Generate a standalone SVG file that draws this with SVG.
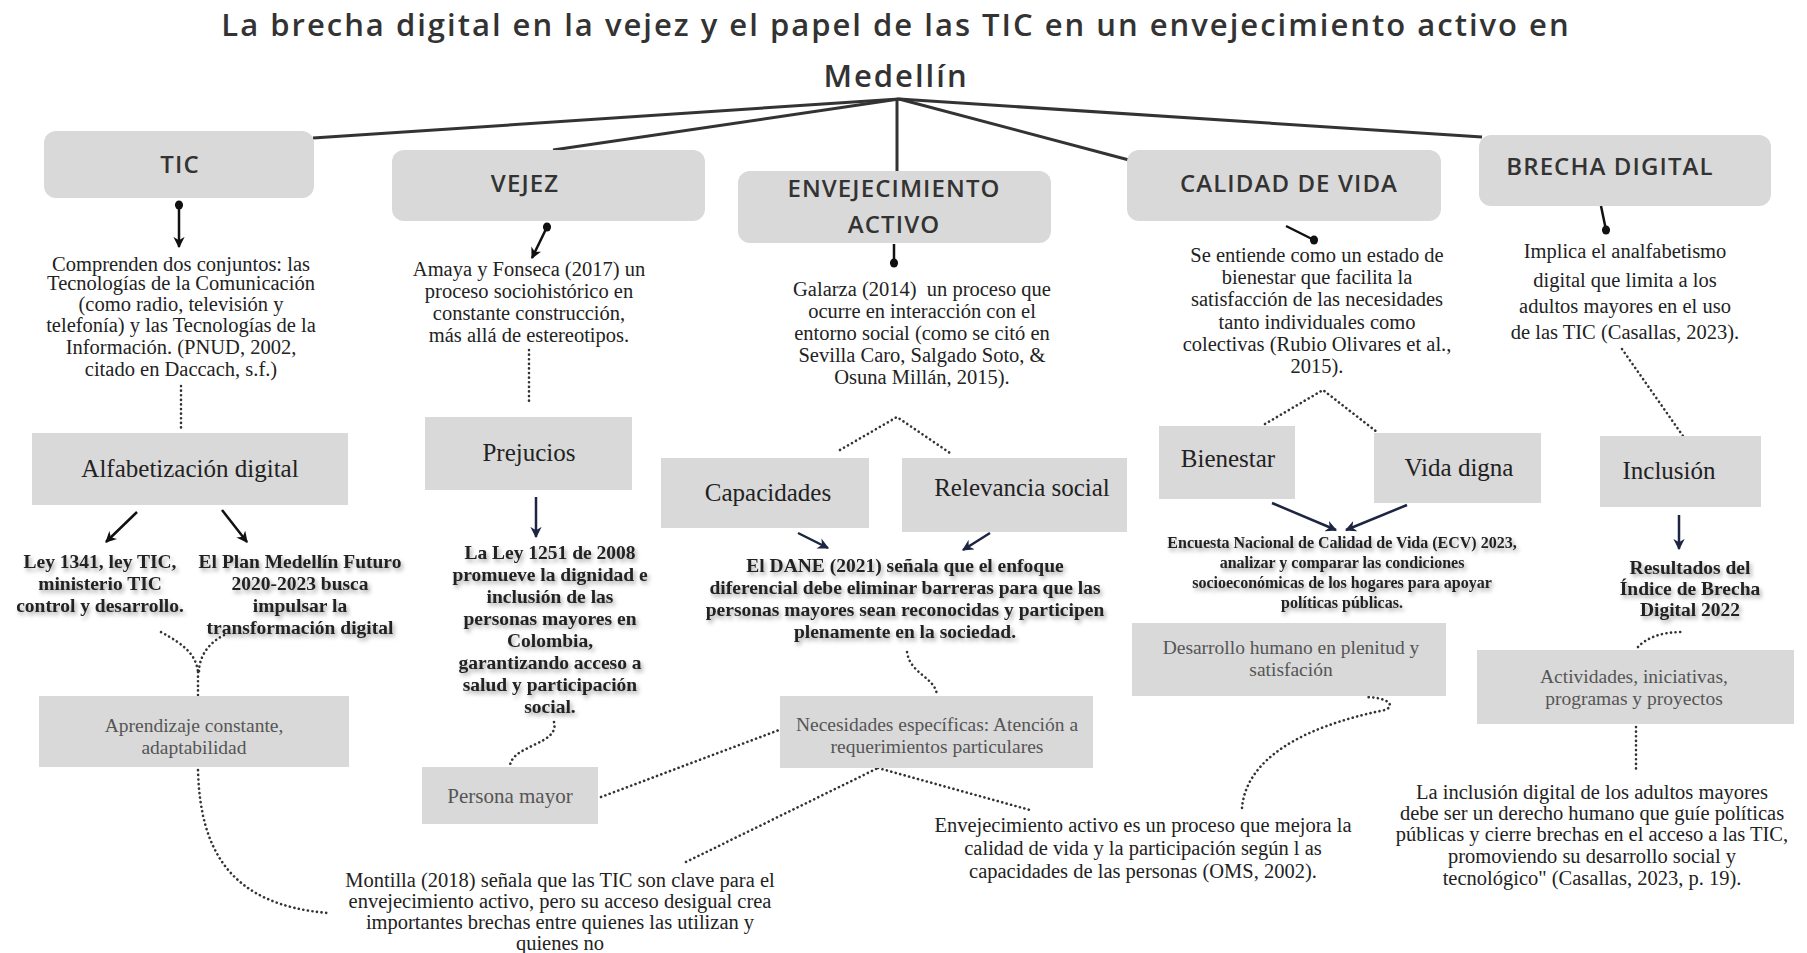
<svg xmlns="http://www.w3.org/2000/svg" width="1807" height="953" viewBox="0 0 1807 953">
<defs>
<style>
.hb{fill:#d9d9d9}
.bx{fill:#d9d9d9}
.title{font-family:"Open Sans","Liberation Sans",sans-serif;font-weight:600;font-size:31px;letter-spacing:2px;fill:#333;text-anchor:middle}
.ht{font-family:"Open Sans","Liberation Sans",sans-serif;font-weight:600;font-size:24px;letter-spacing:1.1px;fill:#333;text-anchor:middle}
.d{font-family:"Liberation Serif","Times New Roman",serif;font-size:20.5px;fill:#222;text-anchor:middle;white-space:pre}
.b{font-family:"Liberation Serif","Times New Roman",serif;font-size:19.5px;font-weight:bold;fill:#222;text-anchor:middle;filter:url(#sh)}
.g{font-family:"Liberation Serif","Times New Roman",serif;font-size:19.5px;fill:#555;text-anchor:middle}
.l{font-family:"Liberation Serif","Times New Roman",serif;font-size:25px;fill:#222;text-anchor:middle}
.hub{stroke:#333;stroke-width:3;fill:none}
.sl{stroke:#111;stroke-width:2.5;fill:none}
.nv{stroke:#1c2541;stroke-width:2.5;fill:none}
.dt{stroke:#333;stroke-width:2.6;fill:none;stroke-dasharray:0.1 4.5;stroke-linecap:round}
</style>
<filter id="sh" x="-10%" y="-30%" width="120%" height="180%">
<feDropShadow dx="2" dy="3" stdDeviation="2" flood-color="#000" flood-opacity="0.35"/>
</filter>
<marker id="arr" viewBox="0 0 10 10" refX="9" refY="5" markerWidth="4.5" markerHeight="4.5" orient="auto"><path d="M0,0 L10,5 L0,10 L3,5z" fill="#111"/></marker>
<marker id="arrn" viewBox="0 0 10 10" refX="9" refY="5" markerWidth="4.5" markerHeight="4.5" orient="auto"><path d="M0,0 L10,5 L0,10 L3,5z" fill="#1c2541"/></marker>
<marker id="dot" viewBox="0 0 10 10" refX="5" refY="5" markerWidth="9" markerHeight="10" markerUnits="userSpaceOnUse"><ellipse cx="5" cy="5" rx="4.5" ry="5" fill="#111"/></marker>
</defs>
<rect width="1807" height="953" fill="#fff"/>

<g id="title">
<text class="title" x="896" y="36">La brecha digital en la vejez y el papel de las TIC en un envejecimiento activo en</text>
<text class="title" x="896" y="87">Medellín</text>
</g>

<g id="connectors">
<path class="hub" d="M899 99 L313 138"/>
<path class="hub" d="M899 99 L553 150"/>
<path class="hub" d="M897 99 L897 171"/>
<path class="hub" d="M899 99 L1129 160"/>
<path class="hub" d="M899 99 L1482 137"/>
<path class="sl" d="M179 205 L179 247" marker-start="url(#dot)" marker-end="url(#arr)"/>
<path class="sl" d="M547 227 L532 258" marker-start="url(#dot)" marker-end="url(#arr)"/>
<path class="sl" d="M894 244 L894 263" marker-end="url(#dot)"/>
<path class="sl" d="M1286 226 L1314 240" marker-end="url(#dot)"/>
<path class="sl" d="M1601 206 L1606 230" marker-end="url(#dot)"/>
<path class="sl" d="M137 512 L106 542" marker-end="url(#arr)"/>
<path class="sl" d="M222 510 L247 542" marker-end="url(#arr)"/>
<path class="nv" d="M536 497 L536 537" marker-end="url(#arrn)"/>
<path class="nv" d="M798 533 L828 548" marker-end="url(#arrn)"/>
<path class="nv" d="M990 533 L963 550" marker-end="url(#arrn)"/>
<path class="nv" d="M1272 503 L1336 530" marker-end="url(#arrn)"/>
<path class="nv" d="M1407 505 L1346 530" marker-end="url(#arrn)"/>
<path class="nv" d="M1679 515 L1679 549" marker-end="url(#arrn)"/>
<path class="dt" d="M181 386 L181 430"/>
<path class="dt" d="M161 632 C185 645 196 655 198 672"/>
<path class="dt" d="M224 635 C205 645 199 660 199 672"/>
<path class="dt" d="M198 672 L198 696"/>
<path class="dt" d="M198 770 C200 850 230 905 328 913"/>
<path class="dt" d="M529 350 L529 404"/>
<path class="dt" d="M554 722 C560 745 510 745 510 767"/>
<path class="dt" d="M601 797 L779 730"/>
<path class="dt" d="M686 862 L878 768"/>
<path class="dt" d="M878 768 L1030 810"/>
<path class="dt" d="M907 652 C910 674 935 677 937 695"/>
<path class="dt" d="M840 450 L897 417 L950 453"/>
<path class="dt" d="M1242 808 C1246 760 1300 727 1385 710 C1395 706 1390 698 1367 697"/>
<path class="dt" d="M1265 424 L1323 390 L1377 432"/>
<path class="dt" d="M1622 349 L1683 436"/>
<path class="dt" d="M1638 647 Q1652 632 1683 632"/>
<path class="dt" d="M1636 727 L1636 770"/>
</g>

<g id="n-tic">
<rect class="hb" x="44" y="131" width="270" height="67" rx="12"/>
<text class="ht" x="180" y="173">TIC</text>
</g>
<g id="n-vejez">
<rect class="hb" x="392" y="150" width="313" height="71" rx="12"/>
<text class="ht" x="525" y="192">VEJEZ</text>
</g>
<g id="n-envejecimiento">
<rect class="hb" x="738" y="171" width="313" height="72" rx="12"/>
<text class="ht" x="894" y="197">ENVEJECIMIENTO</text>
<text class="ht" x="894" y="233">ACTIVO</text>
</g>
<g id="n-calidad">
<rect class="hb" x="1127" y="150" width="314" height="71" rx="12"/>
<text class="ht" x="1289" y="192">CALIDAD DE VIDA</text>
</g>
<g id="n-brecha">
<rect class="hb" x="1479" y="135" width="292" height="71" rx="12"/>
<text class="ht" x="1610" y="175">BRECHA DIGITAL</text>
</g>

<g id="t-tic-desc">
<text class="d" x="181" y="271">Comprenden dos conjuntos: las</text>
<text class="d" x="181" y="290">Tecnologías de la Comunicación</text>
<text class="d" x="181" y="311">(como radio, televisión y</text>
<text class="d" x="181" y="332">telefonía) y las Tecnologías de la</text>
<text class="d" x="181" y="354">Información. (PNUD, 2002,</text>
<text class="d" x="181" y="376">citado en Daccach, s.f.)</text>
</g>
<g id="n-alfabetizacion">
<rect class="bx" x="32" y="433" width="316" height="72"/>
<text class="l" x="190" y="477">Alfabetización digital</text>
</g>
<g id="t-ley1341">
<text class="b" x="100" y="568">Ley 1341, ley TIC,</text>
<text class="b" x="100" y="590">ministerio TIC</text>
<text class="b" x="100" y="612">control y desarrollo.</text>
</g>
<g id="t-plan">
<text class="b" x="300" y="568">El Plan Medellín Futuro</text>
<text class="b" x="300" y="590">2020-2023 busca</text>
<text class="b" x="300" y="612">impulsar la</text>
<text class="b" x="300" y="634">transformación digital</text>
</g>
<g id="n-aprendizaje">
<rect class="bx" x="39" y="696" width="310" height="71"/>
<text class="g" x="194" y="732">Aprendizaje constante,</text>
<text class="g" x="194" y="754">adaptabilidad</text>
</g>
<g id="t-montilla">
<text class="d" x="560" y="887">Montilla (2018) señala que las TIC son clave para el</text>
<text class="d" x="560" y="908">envejecimiento activo, pero su acceso desigual crea</text>
<text class="d" x="560" y="929">importantes brechas entre quienes las utilizan y</text>
<text class="d" x="560" y="950">quienes no</text>
</g>

<g id="t-vejez-desc">
<text class="d" x="529" y="276">Amaya y Fonseca (2017) un</text>
<text class="d" x="529" y="298">proceso sociohistórico en</text>
<text class="d" x="529" y="320">constante construcción,</text>
<text class="d" x="529" y="342">más allá de estereotipos.</text>
</g>
<g id="n-prejucios">
<rect class="bx" x="425" y="417" width="207" height="73"/>
<text class="l" x="529" y="461">Prejucios</text>
</g>
<g id="t-ley1251">
<text class="b" x="550" y="559">La Ley 1251 de 2008</text>
<text class="b" x="550" y="581">promueve la dignidad e</text>
<text class="b" x="550" y="603">inclusión de las</text>
<text class="b" x="550" y="625">personas mayores en</text>
<text class="b" x="550" y="647">Colombia,</text>
<text class="b" x="550" y="669">garantizando acceso a</text>
<text class="b" x="550" y="691">salud y participación</text>
<text class="b" x="550" y="713">social.</text>
</g>
<g id="n-persona">
<rect class="bx" x="422" y="767" width="176" height="57"/>
<text class="g" x="510" y="803" style="font-size:21px">Persona mayor</text>
</g>

<g id="t-env-desc">
<text class="d" x="922" y="296">Galarza (2014)  un proceso que</text>
<text class="d" x="922" y="318">ocurre en interacción con el</text>
<text class="d" x="922" y="340">entorno social (como se citó en</text>
<text class="d" x="922" y="362">Sevilla Caro, Salgado Soto, &amp;</text>
<text class="d" x="922" y="384">Osuna Millán, 2015).</text>
</g>
<g id="n-capacidades">
<rect class="bx" x="661" y="458" width="208" height="70"/>
<text class="l" x="768" y="501">Capacidades</text>
</g>
<g id="n-relevancia">
<rect class="bx" x="902" y="458" width="225" height="74"/>
<text class="l" x="1022" y="496">Relevancia social</text>
</g>
<g id="t-dane">
<text class="b" x="905" y="572">El DANE (2021) señala que el enfoque</text>
<text class="b" x="905" y="594">diferencial debe eliminar barreras para que las</text>
<text class="b" x="905" y="616">personas mayores sean reconocidas y participen</text>
<text class="b" x="905" y="638">plenamente en la sociedad.</text>
</g>
<g id="n-necesidades">
<rect class="bx" x="780" y="696" width="313" height="72"/>
<text class="g" x="937" y="731">Necesidades específicas: Atención a</text>
<text class="g" x="937" y="753">requerimientos particulares</text>
</g>
<g id="t-envejecimiento-oms">
<text class="d" x="1143" y="832">Envejecimiento activo es un proceso que mejora la</text>
<text class="d" x="1143" y="855">calidad de vida y la participación según l as</text>
<text class="d" x="1143" y="878">capacidades de las personas (OMS, 2002).</text>
</g>

<g id="t-calidad-desc">
<text class="d" x="1317" y="262">Se entiende como un estado de</text>
<text class="d" x="1317" y="284">bienestar que facilita la</text>
<text class="d" x="1317" y="306">satisfacción de las necesidades</text>
<text class="d" x="1317" y="329">tanto individuales como</text>
<text class="d" x="1317" y="351">colectivas (Rubio Olivares et al.,</text>
<text class="d" x="1317" y="373">2015).</text>
</g>
<g id="n-bienestar">
<rect class="bx" x="1159" y="426" width="136" height="73"/>
<text class="l" x="1228" y="467">Bienestar</text>
</g>
<g id="n-vidadigna">
<rect class="bx" x="1374" y="433" width="167" height="70"/>
<text class="l" x="1459" y="476">Vida digna</text>
</g>
<g id="t-encuesta">
<text class="b" x="1342" y="548" style="font-size:16px">Encuesta Nacional de Calidad de Vida (ECV) 2023,</text>
<text class="b" x="1342" y="568" style="font-size:16px">analizar y comparar las condiciones</text>
<text class="b" x="1342" y="588" style="font-size:16px">socioeconómicas de los hogares para apoyar</text>
<text class="b" x="1342" y="608" style="font-size:16px">políticas públicas.</text>
</g>
<g id="n-desarrollo">
<rect class="bx" x="1132" y="623" width="314" height="73"/>
<text class="g" x="1291" y="654">Desarrollo humano en plenitud y</text>
<text class="g" x="1291" y="676">satisfación</text>
</g>

<g id="t-brecha-desc">
<text class="d" x="1625" y="258">Implica el analfabetismo</text>
<text class="d" x="1625" y="287">digital que limita a los</text>
<text class="d" x="1625" y="313">adultos mayores en el uso</text>
<text class="d" x="1625" y="339">de las TIC (Casallas, 2023).</text>
</g>
<g id="n-inclusion">
<rect class="bx" x="1600" y="436" width="161" height="71"/>
<text class="l" x="1669" y="479">Inclusión</text>
</g>
<g id="t-resultados">
<text class="b" x="1690" y="574">Resultados del</text>
<text class="b" x="1690" y="595">Índice de Brecha</text>
<text class="b" x="1690" y="616">Digital 2022</text>
</g>
<g id="n-actividades">
<rect class="bx" x="1477" y="650" width="317" height="74"/>
<text class="g" x="1634" y="683">Actividades, iniciativas,</text>
<text class="g" x="1634" y="705">programas y proyectos</text>
</g>
<g id="t-inclusion-digital">
<text class="d" x="1592" y="799">La inclusión digital de los adultos mayores</text>
<text class="d" x="1592" y="820">debe ser un derecho humano que guíe políticas</text>
<text class="d" x="1592" y="841">públicas y cierre brechas en el acceso a las TIC,</text>
<text class="d" x="1592" y="863">promoviendo su desarrollo social y</text>
<text class="d" x="1592" y="885">tecnológico" (Casallas, 2023, p. 19).</text>
</g>
</svg>
